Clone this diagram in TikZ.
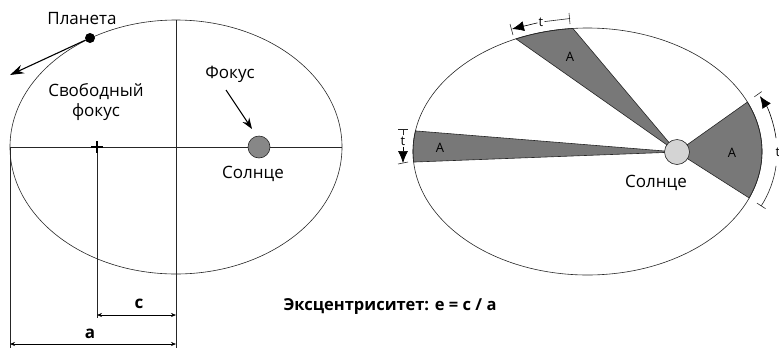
\documentclass[tikz,border=0pt]{standalone}
\usepackage{fontspec}
\setmainfont{Open Sans}
\usetikzlibrary{arrows.meta,calc}

\begin{document}
\begin{tikzpicture}[x=1pt, y=-1pt,
		lbl/.style={font=\fontsize{17}{20}\selectfont, inner sep=1pt},
		boldlbl/.style={font=\fontsize{17}{20}\selectfont\bfseries, inner sep=1pt},
		arealbl/.style={font=\fontsize{13}{15}\selectfont, inner sep=1pt},
		orbit/.style={line width=0.6pt, draw=black!85},
		wedge/.style={fill=black!53, draw=black!85, line width=0.6pt},
		bigarrow/.style={-{Stealth[length=14pt, width=9pt]}, line width=1.1pt},
		dimarrow/.style={{Stealth[length=5pt, width=4pt]}-{Stealth[length=5pt, width=4pt]}, line width=0.6pt},
		tarrow/.style={-{Latex[length=12pt, width=10pt]}, line width=0.6pt}]
	\useasboundingbox (0,0) rectangle (779,349);

	% left orbit with axes
	\coordinate (cL) at (176,147);
	\draw[orbit] (cL) ellipse [x radius=166, y radius=127];
	\coordinate (axL) at (10,147);
	\coordinate (axR) at (342,147);
	\coordinate (axT) at (176,20);
	\coordinate (axB) at (176,348);
	\coordinate (free) at (97,147);
	\coordinate (freeB) at (97,318);
	\coordinate (edgeB) at (10,348);
	\draw[orbit] (axL) -- (axR);
	\draw[orbit] (axT) -- (axB);
	\draw[orbit] (free) -- (freeB);
	\draw[orbit] (axL) -- (edgeB);
	\draw[line width=2pt] (91,147) -- (103,147) (97,141) -- (97,153); % free focus

	% c and a
	\coordinate (cA) at (97,315);
	\coordinate (cB) at (176,315);
	\coordinate (aA) at (10,344);
	\coordinate (aB) at (176,344);
	\draw[dimarrow] (cA) -- (cB);
	\draw[dimarrow] (aA) -- (aB);
	\node[boldlbl] (cLbl) at (139,304) {c};
	\node[boldlbl] (aLbl) at (90,334) {a};

	% planet
	\node[circle, fill, inner sep=0pt, minimum size=10pt] (planet) at (90,38) {};
	\node[lbl] (planetLbl) at (82,19) {Планета};
	\coordinate (vel) at (10,75);
	\draw[bigarrow] (planet) -- (vel);

	% sun, left
	\node[circle, draw=black!85, fill=black!47, line width=0.6pt, minimum size=22pt, inner sep=0pt] (sunL) at (259,147) {};
	\node[lbl] (focLbl) at (230,74) {Фокус};
	\coordinate (focS) at (226,90);
	\coordinate (focT) at (252,129);
	\draw[bigarrow, -{Stealth[length=11pt, width=8pt]}] (focS) -- (focT);
	\node[lbl] (sunLLbl) at (253,174) {Солнце};
	\node[lbl, align=center] (freeLbl) at (96,102) {Свободный\\фокус};

	% right orbit, equal areas
	\coordinate (cR) at (587.5,151.5);
	\coordinate (sunC) at (677,152);
	\filldraw[wedge] (sunC) -- ($(cR)+(175.1:174.5 and 123.5)$) arc[start angle=175.1, end angle=189.6, x radius=174.5, y radius=123.5] -- cycle;
	\filldraw[wedge] (sunC) -- ($(cR)+(-114.2:174.5 and 123.5)$) arc[start angle=-114.2, end angle=-94.8, x radius=174.5, y radius=123.5] -- cycle;
	\filldraw[wedge] (sunC) -- ($(cR)+(-23.6:174.5 and 123.5)$) arc[start angle=-23.6, end angle=22.1, x radius=174.5, y radius=123.5] -- cycle;
	\draw[orbit] (cR) ellipse [x radius=174.5, y radius=123.5];
	\node[circle, draw=black!85, fill=black!17, line width=0.6pt, minimum size=25pt, inner sep=0pt] (sunR) at (sunC) {};
	\node[lbl] (sunRLbl) at (656,183) {Солнце};

	\node[arealbl] (areaL) at (440,148) {A};
	\node[arealbl] (areaT) at (570,57) {A};
	\node[arealbl] (areaR) at (732,153) {A};

	% t marks
	\node[arealbl] (tL) at (403,141) {t};
	\coordinate (tLT) at (403,129);
	\coordinate (tLB) at (403,163);
	\draw[orbit] (tL) -- (tLT);
	\draw[tarrow] (tL) -- (tLB);
	\draw[orbit] (398,129) -- (408,129);
	\draw[orbit] (398,164) -- (408,162);

	\node[arealbl] (tT) at (541,22) {t};
	\coordinate (tTL) at (512,29);
	\coordinate (tTR) at (570,18.5);
	\draw[orbit] (tT) -- (tTR);
	\draw[tarrow] (tT) -- (tTL);
	\draw[orbit] (510,24) -- (513,35);
	\draw[orbit] (569,13) -- (570,24);

	\node[arealbl] (tR) at (778,152) {t};
	\draw[orbit] ($(sunC)+(32.6:100)$) arc[start angle=32.6, end angle=8, radius=100];
	\draw[tarrow] ($(sunC)+(-8:100)$) arc[start angle=-8, end angle=-34, radius=100];
	\draw[orbit] ($(sunC)+(-35.5:95)$) -- ($(sunC)+(-35.5:104)$);
	\draw[orbit] ($(sunC)+(32.6:95)$) -- ($(sunC)+(32.6:105)$);

	\node[boldlbl, font=\fontsize{16.5}{19}\selectfont\bfseries] (ecc) at (390,307) {Эксцентриситет: e = c / a};
\end{tikzpicture}
\end{document}
